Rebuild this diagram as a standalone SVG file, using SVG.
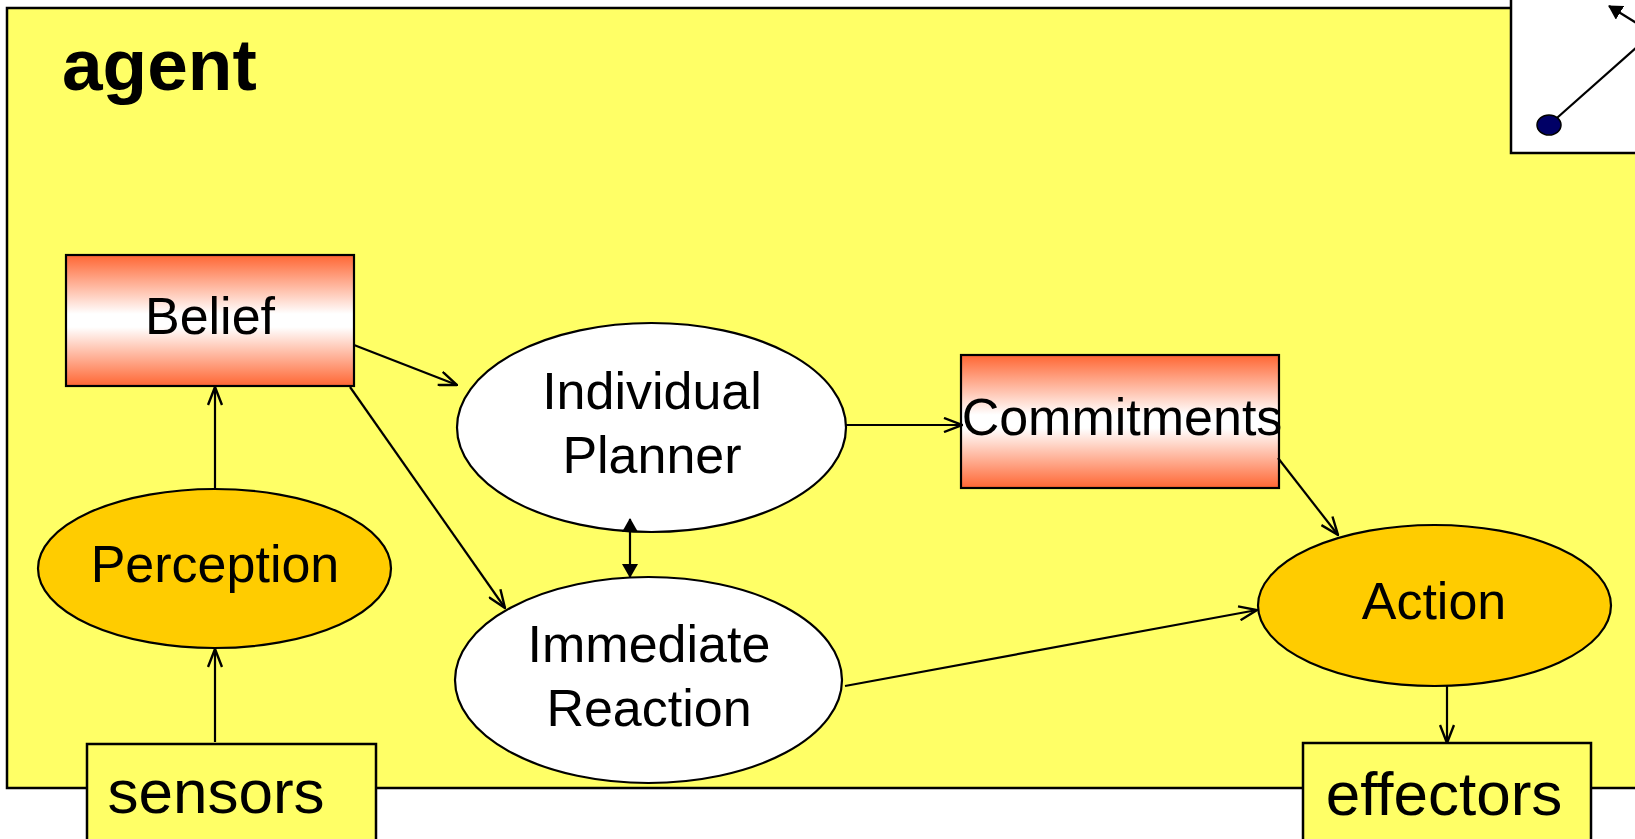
<svg xmlns="http://www.w3.org/2000/svg" width="1635" height="839" viewBox="0 0 1635 839">
<style>
.lbl{font-family:"Liberation Sans",Arial,sans-serif;font-size:52px;fill:#000;text-anchor:middle}
.big{font-size:62px}
.node{stroke:#000;stroke-width:2.2}
.conn line{stroke:#000;stroke-width:2.2;fill:none}
</style>
<defs>
<linearGradient id="grad" x1="0" y1="0" x2="0" y2="1">
<stop offset="0" stop-color="#FF6633"/>
<stop offset="0.45" stop-color="#FFFFFF"/>
<stop offset="0.55" stop-color="#FFFFFF"/>
<stop offset="1" stop-color="#FF6633"/>
</linearGradient>
<marker id="open" viewBox="0 0 20 16" refX="19" refY="8" markerWidth="20" markerHeight="16" markerUnits="userSpaceOnUse" orient="auto">
<path d="M1,1 L19,8 L1,15" fill="none" stroke="#000" stroke-width="2.4"/>
</marker>
<marker id="fill" viewBox="0 0 14 16" refX="13" refY="8" markerWidth="14" markerHeight="16" markerUnits="userSpaceOnUse" orient="auto-start-reverse">
<path d="M0,0 L14,8 L0,16 Z" fill="#000"/>
</marker>
</defs>
<rect x="0" y="0" width="1635" height="839" fill="#fff"/>
<g id="agent">
<rect x="7" y="8" width="1640" height="780" fill="#FFFF66" stroke="#000" stroke-width="2.5"/>
<text x="62" y="90" style="font-family:'Liberation Sans',Arial,sans-serif;font-size:73px;font-weight:bold">agent</text>
</g>
<g id="legend">
<rect x="1511" y="-5" width="140" height="158" fill="#fff" stroke="#000" stroke-width="2.5"/>
<line x1="1549" y1="125" x2="1638" y2="46" stroke="#000" stroke-width="2.2"/>
<line x1="1638" y1="24" x2="1609" y2="6" stroke="#000" stroke-width="2.2" marker-end="url(#fill)"/>
<ellipse cx="1549" cy="125" rx="12" ry="10" fill="#000066" stroke="#000" stroke-width="1.5"/>
</g>
<g id="belief">
<rect class="node" x="66" y="255" width="288" height="131" fill="url(#grad)"/>
<text class="lbl" x="210" y="334">Belief</text>
</g>
<g id="commitments">
<rect class="node" x="961" y="355" width="318" height="133" fill="url(#grad)"/>
<text class="lbl" x="1122" y="435">Commitments</text>
</g>
<g id="planner">
<ellipse class="node" cx="651.5" cy="427.5" rx="194.5" ry="104.5" fill="#fff"/>
<text class="lbl" x="652" y="409">Individual</text>
<text class="lbl" x="652" y="473">Planner</text>
</g>
<g id="reaction">
<ellipse class="node" cx="648.5" cy="680" rx="193.5" ry="103" fill="#fff"/>
<text class="lbl" x="649" y="662">Immediate</text>
<text class="lbl" x="649" y="726">Reaction</text>
</g>
<g id="perception">
<ellipse class="node" cx="214.5" cy="568.5" rx="176.5" ry="79.5" fill="#FFCC00"/>
<text class="lbl" x="215" y="582">Perception</text>
</g>
<g id="action">
<ellipse class="node" cx="1434.5" cy="605.5" rx="176.5" ry="80.5" fill="#FFCC00"/>
<text class="lbl" x="1434" y="619">Action</text>
</g>
<g id="sensors">
<rect x="87" y="744" width="289" height="110" fill="#FFFF66" stroke="#000" stroke-width="2.5"/>
<text class="lbl big" x="216" y="813">sensors</text>
</g>
<g id="effectors">
<rect x="1303" y="743" width="288" height="110" fill="#FFFF66" stroke="#000" stroke-width="2.5"/>
<text class="lbl big" x="1444" y="815">effectors</text>
</g>
<g class="conn" id="connectors">
<line x1="354" y1="345" x2="457" y2="385" marker-end="url(#open)"/>
<line x1="350" y1="387" x2="505" y2="608" marker-end="url(#open)"/>
<line x1="846" y1="425" x2="962" y2="425" marker-end="url(#open)"/>
<line x1="1278" y1="458" x2="1338" y2="535" marker-end="url(#open)"/>
<line x1="845" y1="686" x2="1257" y2="610" marker-end="url(#open)"/>
<line x1="630" y1="519" x2="630" y2="577" marker-start="url(#fill)" marker-end="url(#fill)"/>
<line x1="1447" y1="686" x2="1447" y2="743" marker-end="url(#open)"/>
<line x1="215" y1="489" x2="215" y2="387" marker-end="url(#open)"/>
<line x1="215" y1="742" x2="215" y2="649" marker-end="url(#open)"/>
</g>
</svg>
